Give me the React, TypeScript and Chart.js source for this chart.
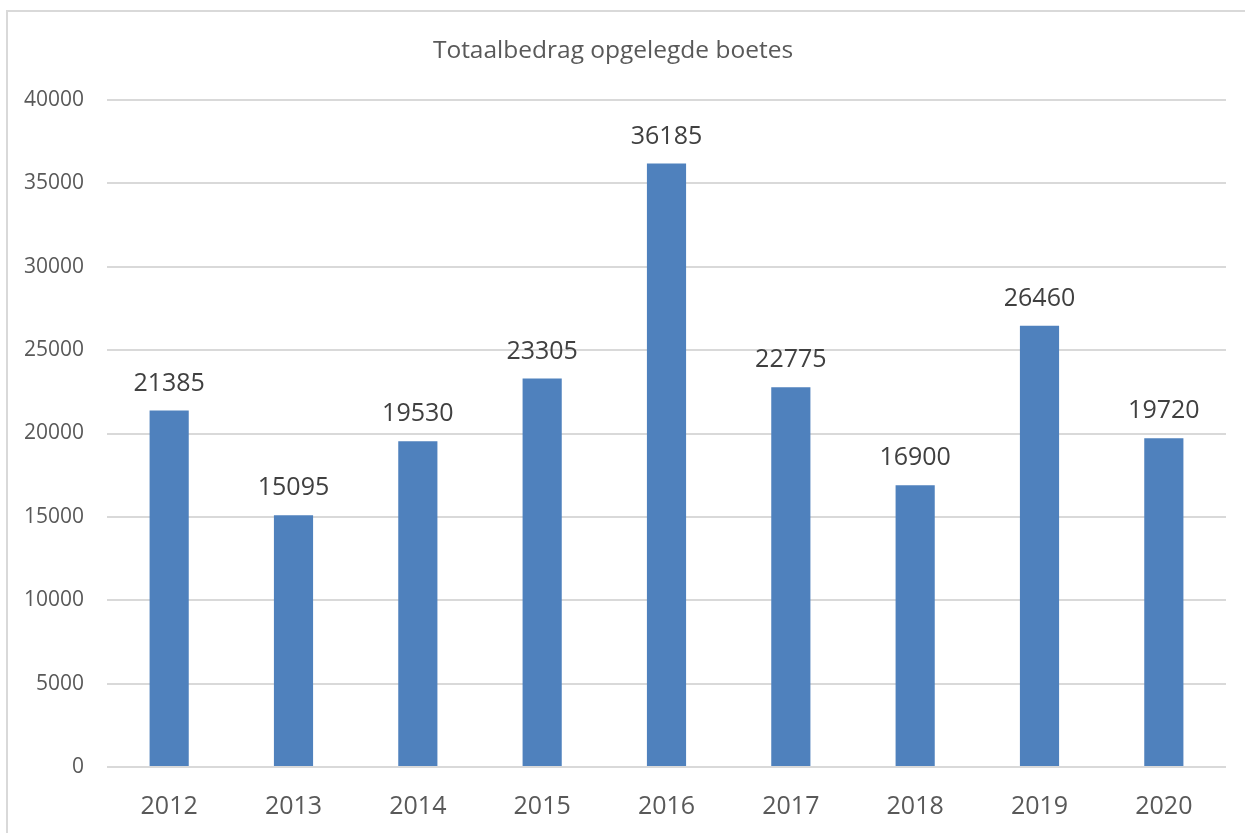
import React, { useEffect, useRef } from "react";
import { Chart, registerables } from "chart.js";

Chart.register(...registerables);

const years = ["2012", "2013", "2014", "2015", "2016", "2017", "2018", "2019", "2020"];
const totals = [21385, 15095, 19530, 23305, 36185, 22775, 16900, 26460, 19720];
const titleText = "Totaalbedrag opgelegde boetes";
const yMin = 0;
const yMax = 40000;
const yStep = 5000;

const FONT = "'Open Sans', 'Noto Sans', sans-serif";

const dataLabels = {
  id: "dataLabels",
  afterDatasetsDraw(chart: any) {
    const ctx = chart.ctx;
    const meta = chart.getDatasetMeta(0);
    ctx.save();
    ctx.font = `25px ${FONT}`;
    ctx.fillStyle = "#404040";
    ctx.textAlign = "center";
    ctx.textBaseline = "middle";
    meta.data.forEach((bar: any, i: number) => {
      ctx.fillText(String(chart.data.datasets[0].data[i]), bar.x, bar.y - 27);
    });
    ctx.restore();
  },
};

export default function App() {
  const ref = useRef<HTMLCanvasElement>(null);
  useEffect(() => {
    if (!ref.current) return;
    const chart = new Chart(ref.current, {
      type: "bar",
      data: {
        labels: years,
        datasets: [
          {
            data: totals,
            backgroundColor: "#4F81BD",
            barPercentage: 0.315,
            categoryPercentage: 1,
          },
        ],
      },
      options: {
        responsive: false,
        animation: false,
        devicePixelRatio: 1,
        layout: { padding: { left: 0, right: 19, top: 0, bottom: 0 } },
        plugins: {
          legend: { display: false },
          tooltip: { enabled: false },
          title: {
            display: true,
            text: titleText,
            color: "#595959",
            font: { family: FONT, size: 24.5, weight: "normal" },
            padding: { top: 36, bottom: 34.6 },
          },
        },
        scales: {
          x: {
            grid: { display: false, drawTicks: false },
            border: { display: false },
            ticks: {
              color: "#595959",
              font: { family: FONT, size: 25 },
              padding: 25,
              maxRotation: 0,
            },
            afterFit: (s: any) => {
              s.height = 66;
            },
          },
          y: {
            min: yMin,
            max: yMax,
            grid: { color: "#D9D9D9", lineWidth: 2, drawTicks: false },
            border: { display: false },
            ticks: {
              stepSize: yStep,
              color: "#595959",
              font: { family: FONT, size: 21 },
              padding: 23,
              callback: (v: any) => String(v),
            },
            afterFit: (s: any) => {
              s.width = 107;
            },
          },
        },
      },
      plugins: [dataLabels],
    });
    return () => chart.destroy();
  }, []);

  return (
    <div
      style={{
        position: "fixed",
        left: 0,
        top: 0,
        width: 1245,
        height: 833,
        overflow: "hidden",
        background: "#fff",
      }}
    >
      <div
        style={{
          position: "absolute",
          left: 6,
          top: 10,
          width: 1400,
          height: 1000,
          borderLeft: "2px solid #D9D9D9",
          borderTop: "2px solid #D9D9D9",
        }}
      />
      <canvas ref={ref} width={1245} height={833} style={{ position: "absolute", left: 0, top: 0 }} />
    </div>
  );
}
